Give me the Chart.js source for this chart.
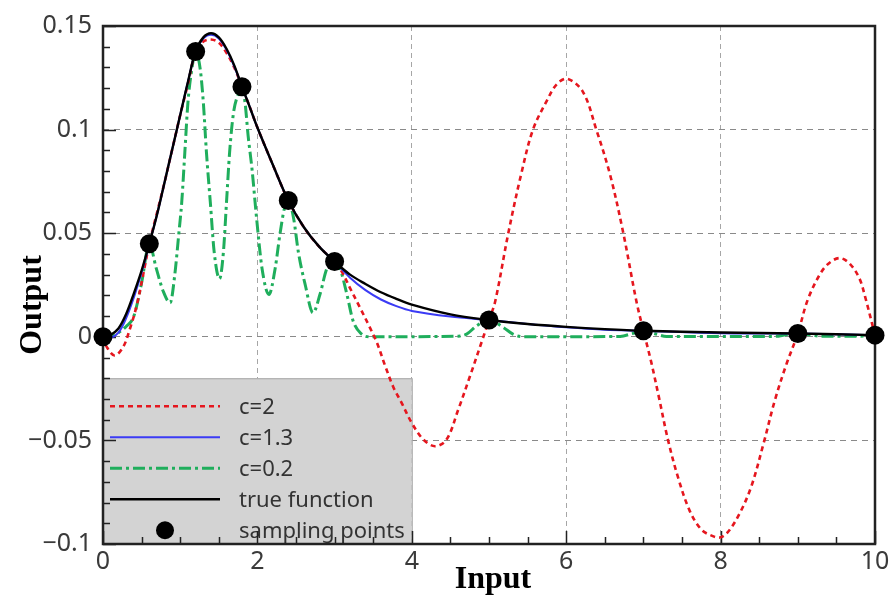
<!DOCTYPE html>
<html>
<head>
<meta charset="utf-8">
<title>RBF interpolation</title>
<script src="https://cdn.jsdelivr.net/npm/chart.js@4.4.1/dist/chart.umd.min.js"></script>
<style>
  html, body { margin: 0; padding: 0; background: #fff; }
  #wrap { width: 894px; height: 596px; position: relative; }
</style>
</head>
<body>
<div id="wrap"><canvas id="grafico"></canvas></div>
<script>
// eixos
const xTickValues = [0, 2, 4, 6, 8, 10];
const xTickLabels = ['0', '2', '4', '6', '8', '10'];
const yTickValues = [-0.1, -0.05, 0, 0.05, 0.1, 0.15];
const yTickLabels = ['\u22120.1', '\u22120.05', '0', '0.05', '0.1', '0.15'];

// pontos amostrados
const xSample = [0, 0.6, 1.2, 1.8, 2.4, 3.0, 5, 7, 9, 10];
const ySample = [0, 0.0449, 0.1377, 0.1207, 0.0658, 0.0363, 0.0081, 0.0029, 0.0016, 0.0008];

// funcao verdadeira
const xTrue = [0, 0.1, 0.2, 0.3, 0.4, 0.5, 0.6, 0.7, 0.8, 0.9, 1.0, 1.1, 1.2, 1.3, 1.4, 1.5, 1.6, 1.7, 1.8, 1.9, 2.0, 2.2, 2.4, 2.6, 2.8, 3.0, 3.2, 3.4, 3.6, 3.8, 4.0, 4.5, 5.0, 5.5, 6.0, 6.5, 7.0, 8.0, 9.0, 10];
const yTrue = [0, 0.001, 0.004, 0.011, 0.021, 0.032, 0.0449, 0.059, 0.075, 0.091, 0.107, 0.123, 0.1377, 0.1445, 0.1465, 0.1445, 0.139, 0.131, 0.1207, 0.111, 0.101, 0.083, 0.0658, 0.053, 0.0435, 0.0363, 0.030, 0.0255, 0.0215, 0.0183, 0.0155, 0.0108, 0.0081, 0.0062, 0.0048, 0.0037, 0.0029, 0.0021, 0.0016, 0.0008];

// c = 1.3
const xBlue = [0, 0.1, 0.2, 0.3, 0.4, 0.5, 0.6, 0.7, 0.8, 0.9, 1.0, 1.1, 1.2, 1.3, 1.4, 1.5, 1.6, 1.7, 1.8, 1.9, 2.0, 2.2, 2.4, 2.6, 2.8, 3.0, 3.2, 3.4, 3.6, 3.8, 4.0, 4.5, 5.0, 5.5, 6.0, 6.5, 7.0, 8.0, 9.0, 9.5, 10];
const yBlue = [0, -0.0005, 0.002, 0.009, 0.019, 0.031, 0.0449, 0.059, 0.075, 0.091, 0.107, 0.123, 0.1377, 0.144, 0.1458, 0.144, 0.1385, 0.1305, 0.1207, 0.111, 0.101, 0.083, 0.0658, 0.053, 0.0435, 0.0363, 0.0285, 0.0225, 0.018, 0.0148, 0.0125, 0.0098, 0.0081, 0.0062, 0.0046, 0.0034, 0.0029, 0.0017, 0.0016, 0.0012, 0.0008];

// c = 2
const xRed = [0, 0.05, 0.15, 0.26, 0.35, 0.44, 0.52, 0.6, 0.7, 0.8, 0.9, 1.0, 1.1, 1.2, 1.3, 1.4, 1.5, 1.6, 1.7, 1.8, 1.9, 2.0, 2.2, 2.4, 2.6, 2.8, 3.0, 3.1, 3.2, 3.33, 3.45, 3.55, 3.65, 3.76, 3.87, 4.0, 4.15, 4.3, 4.45, 4.6, 4.75, 4.91, 5.0, 5.08, 5.25, 5.42, 5.57, 5.75, 5.88, 6.02, 6.22, 6.39, 6.57, 6.74, 6.91, 7.0, 7.1, 7.2, 7.32, 7.45, 7.6, 7.75, 7.9, 8.0, 8.1, 8.25, 8.4, 8.56, 8.7, 8.85, 9.0, 9.13, 9.3, 9.42, 9.55, 9.68, 9.8, 9.87, 10];
const yRed = [0, -0.005, -0.009, -0.005, 0.004, 0.0156, 0.030, 0.0449, 0.060, 0.075, 0.091, 0.107, 0.122, 0.1377, 0.1425, 0.1435, 0.142, 0.137, 0.130, 0.1207, 0.111, 0.101, 0.083, 0.0658, 0.053, 0.0435, 0.0363, 0.031, 0.0235, 0.014, 0.005, -0.003, -0.0135, -0.0242, -0.032, -0.0416, -0.0496, -0.0528, -0.0496, -0.0353, -0.0194, -0.0019, 0.0081, 0.017, 0.050, 0.079, 0.100, 0.114, 0.122, 0.1245, 0.118, 0.100, 0.078, 0.050, 0.017, 0.003, -0.012, -0.029, -0.050, -0.068, -0.084, -0.093, -0.0962, -0.0968, -0.094, -0.085, -0.072, -0.051, -0.031, -0.0135, 0.0016, 0.018, 0.031, 0.036, 0.038, 0.035, 0.028, 0.0196, 0.0008];

// c = 0.2
const xGreen = [0, 0.1, 0.2, 0.3, 0.4, 0.5, 0.6, 0.69, 0.78, 0.87, 0.93, 0.98, 1.02, 1.06, 1.10, 1.15, 1.2, 1.26, 1.30, 1.34, 1.39, 1.44, 1.51, 1.56, 1.60, 1.64, 1.69, 1.75, 1.8, 1.84, 1.88, 1.93, 1.99, 2.06, 2.15, 2.23, 2.29, 2.35, 2.4, 2.47, 2.53, 2.62, 2.72, 2.81, 2.90, 3.0, 3.07, 3.16, 3.24, 3.35, 3.46, 4.6, 4.71, 4.84, 5.0, 5.19, 5.31, 5.45, 6.7, 6.85, 7.0, 7.15, 7.3, 8.7, 8.85, 9.0, 9.15, 9.3, 9.8, 10];
const yGreen = [0, 0.0005, 0.002, 0.005, 0.010, 0.026, 0.0449, 0.033, 0.022, 0.0164, 0.030, 0.049, 0.065, 0.089, 0.113, 0.129, 0.1377, 0.129, 0.113, 0.089, 0.065, 0.041, 0.028, 0.041, 0.065, 0.089, 0.108, 0.117, 0.1207, 0.113, 0.097, 0.081, 0.057, 0.033, 0.0204, 0.033, 0.049, 0.062, 0.0658, 0.057, 0.041, 0.025, 0.0116, 0.0204, 0.033, 0.0363, 0.033, 0.0204, 0.0076, 0.0013, 0, 0.0003, 0.0013, 0.0053, 0.0081, 0.0044, 0.0013, 0, 0.0002, 0.0015, 0.0029, 0.0015, 0.0002, 0.0002, 0.001, 0.0016, 0.001, 0.0003, 0.0003, 0.0008];

function pares(xs, ys) {
    return xs.map(function(x, i) { return { x: x, y: ys[i] }; });
}

function linha(label, xs, ys, cor, largura, tracejado, ordem, suave) {
    return {
        label: label,
        data: pares(xs, ys),
        showLine: true,
        borderColor: cor,
        backgroundColor: cor,
        borderWidth: largura,
        borderDash: tracejado,
        pointRadius: 0,
        pointHoverRadius: 0,
        fill: false,
        tension: suave ? 0.35 : 0,
        cubicInterpolationMode: suave ? 'default' : 'monotone',
        order: ordem
    };
}

// caixa da legenda, moldura e marcas dos eixos
const moldura = {
    id: 'moldura',
    beforeDatasetsDraw(chart) {
        const ctx = chart.ctx;
        const area = chart.chartArea;
        const sx = chart.scales.x, sy = chart.scales.y;
        ctx.save();

        // legenda
        const bl = area.left, br = sx.getPixelForValue(4);
        const bt = sy.getPixelForValue(-0.02), bb = area.bottom;
        ctx.fillStyle = '#d3d3d3';
        ctx.fillRect(bl, bt, br - bl, bb - bt);
        ctx.strokeStyle = '#a8a8a8';
        ctx.lineWidth = 1;
        ctx.strokeRect(bl + 0.5, bt + 0.5, br - bl, bb - bt);

        ctx.font = "22px 'Noto Sans', sans-serif";
        ctx.textBaseline = 'middle';
        ctx.textAlign = 'left';
        chart.data.datasets.forEach(function(ds, i) {
            const yy = bt + 28 + i * 31;
            if (ds.showLine) {
                ctx.setLineDash(ds.borderDash || []);
                ctx.strokeStyle = ds.borderColor;
                ctx.lineWidth = ds.borderWidth;
                ctx.beginPath();
                ctx.moveTo(bl + 7, yy);
                ctx.lineTo(bl + 117, yy);
                ctx.stroke();
                ctx.setLineDash([]);
            } else {
                ctx.fillStyle = ds.backgroundColor;
                ctx.beginPath();
                ctx.arc(bl + 62, yy, 9, 0, Math.PI * 2);
                ctx.fill();
            }
            ctx.fillStyle = '#333';
            ctx.fillText(ds.label, bl + 136, yy + 1);
        });

        // marcas internas
        ctx.strokeStyle = '#222';
        ctx.lineWidth = 1.5;
        ctx.beginPath();
        for (let v = -0.1; v <= 0.1501; v += 0.01) {
            const py = Math.round(sy.getPixelForValue(v)) + 0.5;
            const major = Math.abs(Math.round(v * 100) % 5) === 0;
            ctx.moveTo(area.left, py);
            ctx.lineTo(area.left + (major ? 13 : 7), py);
        }
        for (let v = 0; v <= 10.01; v += 0.5) {
            const px = Math.round(sx.getPixelForValue(v)) + 0.5;
            const major = Math.abs(Math.round(v * 10) % 20) === 0;
            ctx.moveTo(px, area.bottom);
            ctx.lineTo(px, area.bottom - (major ? 13 : 7));
        }
        ctx.stroke();

        // moldura
        ctx.lineWidth = 2.5;
        ctx.strokeRect(area.left, area.top, area.right - area.left, area.bottom - area.top);

        // titulos dos eixos
        ctx.fillStyle = '#000';
        ctx.font = "bold 32px 'Liberation Serif', 'Times New Roman', serif";
        ctx.textAlign = 'center';
        ctx.textBaseline = 'middle';
        ctx.fillText('Input', (area.left + area.right) / 2 + 4, 580);
        ctx.save();
        ctx.translate(33, 305);
        ctx.rotate(-Math.PI / 2);
        ctx.fillText('Output', 0, 0);
        ctx.restore();

        ctx.restore();
    }
};

document.addEventListener('DOMContentLoaded', function() {
    Chart.defaults.font.family = "'Noto Sans', sans-serif";
    Chart.defaults.font.size = 25;
    Chart.defaults.color = '#3a3a3a';

    const ctx = document.getElementById('grafico').getContext('2d');
    new Chart(ctx, {
        type: 'scatter',
        data: {
            datasets: [
                linha('c=2', xRed, yRed, '#e5161e', 2.6, [5, 4], 3, true),
                linha('c=1.3', xBlue, yBlue, '#3b3bf5', 2, [], 2, true),
                linha('c=0.2', xGreen, yGreen, '#1fae5c', 3, [12, 4, 3, 4], 4, false),
                linha('true function', xTrue, yTrue, '#000000', 2.4, [], 1, true),
                {
                    label: 'sampling points',
                    data: pares(xSample, ySample),
                    showLine: false,
                    pointRadius: 9.5,
                    pointHoverRadius: 9.5,
                    pointBackgroundColor: '#000',
                    pointBorderWidth: 0,
                    backgroundColor: '#000',
                    borderColor: '#000',
                    clip: false,
                    order: 0
                }
            ]
        },
        options: {
            responsive: true,
            maintainAspectRatio: false,
            animation: false,
            events: [],
            layout: { padding: { top: 21, right: 19, left: 0, bottom: 0 } },
            plugins: {
                legend: { display: false },
                tooltip: { enabled: false }
            },
            scales: {
                x: {
                    type: 'linear',
                    min: 0,
                    max: 10,
                    afterBuildTicks: function(s) { s.ticks = xTickValues.map(function(v) { return { value: v }; }); },
                    afterFit: function(s) { s.height = 52; },
                    ticks: {
                        autoSkip: false,
                        maxRotation: 0,
                        padding: 3,
                        callback: function(v, i) { return xTickLabels[i]; }
                    },
                    grid: { color: '#a6a6a6', lineWidth: 1, drawTicks: false },
                    border: { display: false, dash: [5, 4] }
                },
                y: {
                    type: 'linear',
                    min: -0.1,
                    max: 0.15,
                    afterBuildTicks: function(s) { s.ticks = yTickValues.map(function(v) { return { value: v }; }); },
                    afterFit: function(s) { s.width = 103; },
                    ticks: {
                        autoSkip: false,
                        padding: 11,
                        callback: function(v, i) { return yTickLabels[i]; }
                    },
                    grid: { color: '#8a8a8a', lineWidth: 1, drawTicks: false },
                    border: { display: false, dash: [6, 5] }
                }
            }
        },
        plugins: [moldura]
    });
});
</script>
</body>
</html>
